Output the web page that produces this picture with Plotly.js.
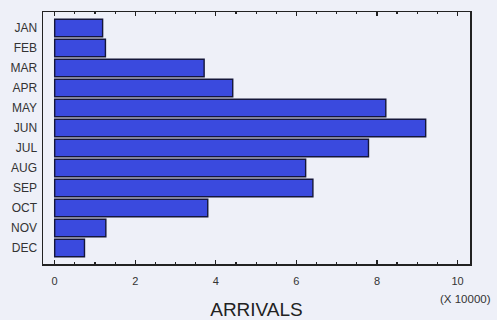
<!DOCTYPE html>
<html><head><meta charset="utf-8">
<script src="https://cdn.plot.ly/plotly-3.0.1.min.js"></script>
<style>html,body{margin:0;padding:0;background:#eef0f8;}#chart{width:497px;height:320px;}</style>
</head><body><div id="chart"></div>
<script>
const months = ["JAN","FEB","MAR","APR","MAY","JUN","JUL","AUG","SEP","OCT","NOV","DEC"];
const arrivals = [1.19, 1.26, 3.71, 4.42, 8.22, 9.21, 7.79, 6.23, 6.41, 3.80, 1.27, 0.74];
const xTicks = [0, 2, 4, 6, 8, 10];

const trace = {
  type: 'bar', orientation: 'h', x: arrivals, y: months,
  marker: {color: '#3a4ade', line: {color: '#14163a', width: 1.4}},
  width: 0.87, hoverinfo: 'skip'
};
const layout = {
  width: 497, height: 320,
  margin: {l: 43, r: 27, t: 12, b: 56},
  paper_bgcolor: '#eef0f8', plot_bgcolor: '#eef0f8',
  font: {family: 'Liberation Sans, Arial, sans-serif', color: '#222'},
  showlegend: false,
  xaxis: {
    range: [-0.29, 10.31], tickvals: xTicks, ticktext: xTicks.map(String),
    showgrid: false, zeroline: false, showline: true, linecolor: '#222', linewidth: 1.5,
    mirror: 'ticks', ticks: 'inside', ticklen: 4, tickcolor: '#222', tickwidth: 1.2,
    minor: {dtick: 0.5, tick0: 0, ticks: 'inside', ticklen: 2, tickcolor: '#222', showgrid: false},
    tickfont: {size: 11, color: '#333'}, ticklabelstandoff: 6,
    title: {text: 'ARRIVALS', font: {size: 19, color: '#222'}, standoff: 19}
  },
  yaxis: {
    type: 'category', range: [11.8, -0.8],
    showgrid: false, zeroline: false, showline: true, linecolor: '#222', linewidth: 1.5,
    mirror: true, ticks: '', tickfont: {size: 12, color: '#333'}, ticklabelstandoff: 2
  },
  annotations: [{
    text: '(X 10000)', xref: 'paper', yref: 'paper', x: 1.054, y: -0.108,
    xanchor: 'right', yanchor: 'top', showarrow: false, font: {size: 11.5, color: '#333'}
  }]
};
Plotly.newPlot('chart', [trace], layout, {staticPlot: true, displayModeBar: false});
</script></body></html>
